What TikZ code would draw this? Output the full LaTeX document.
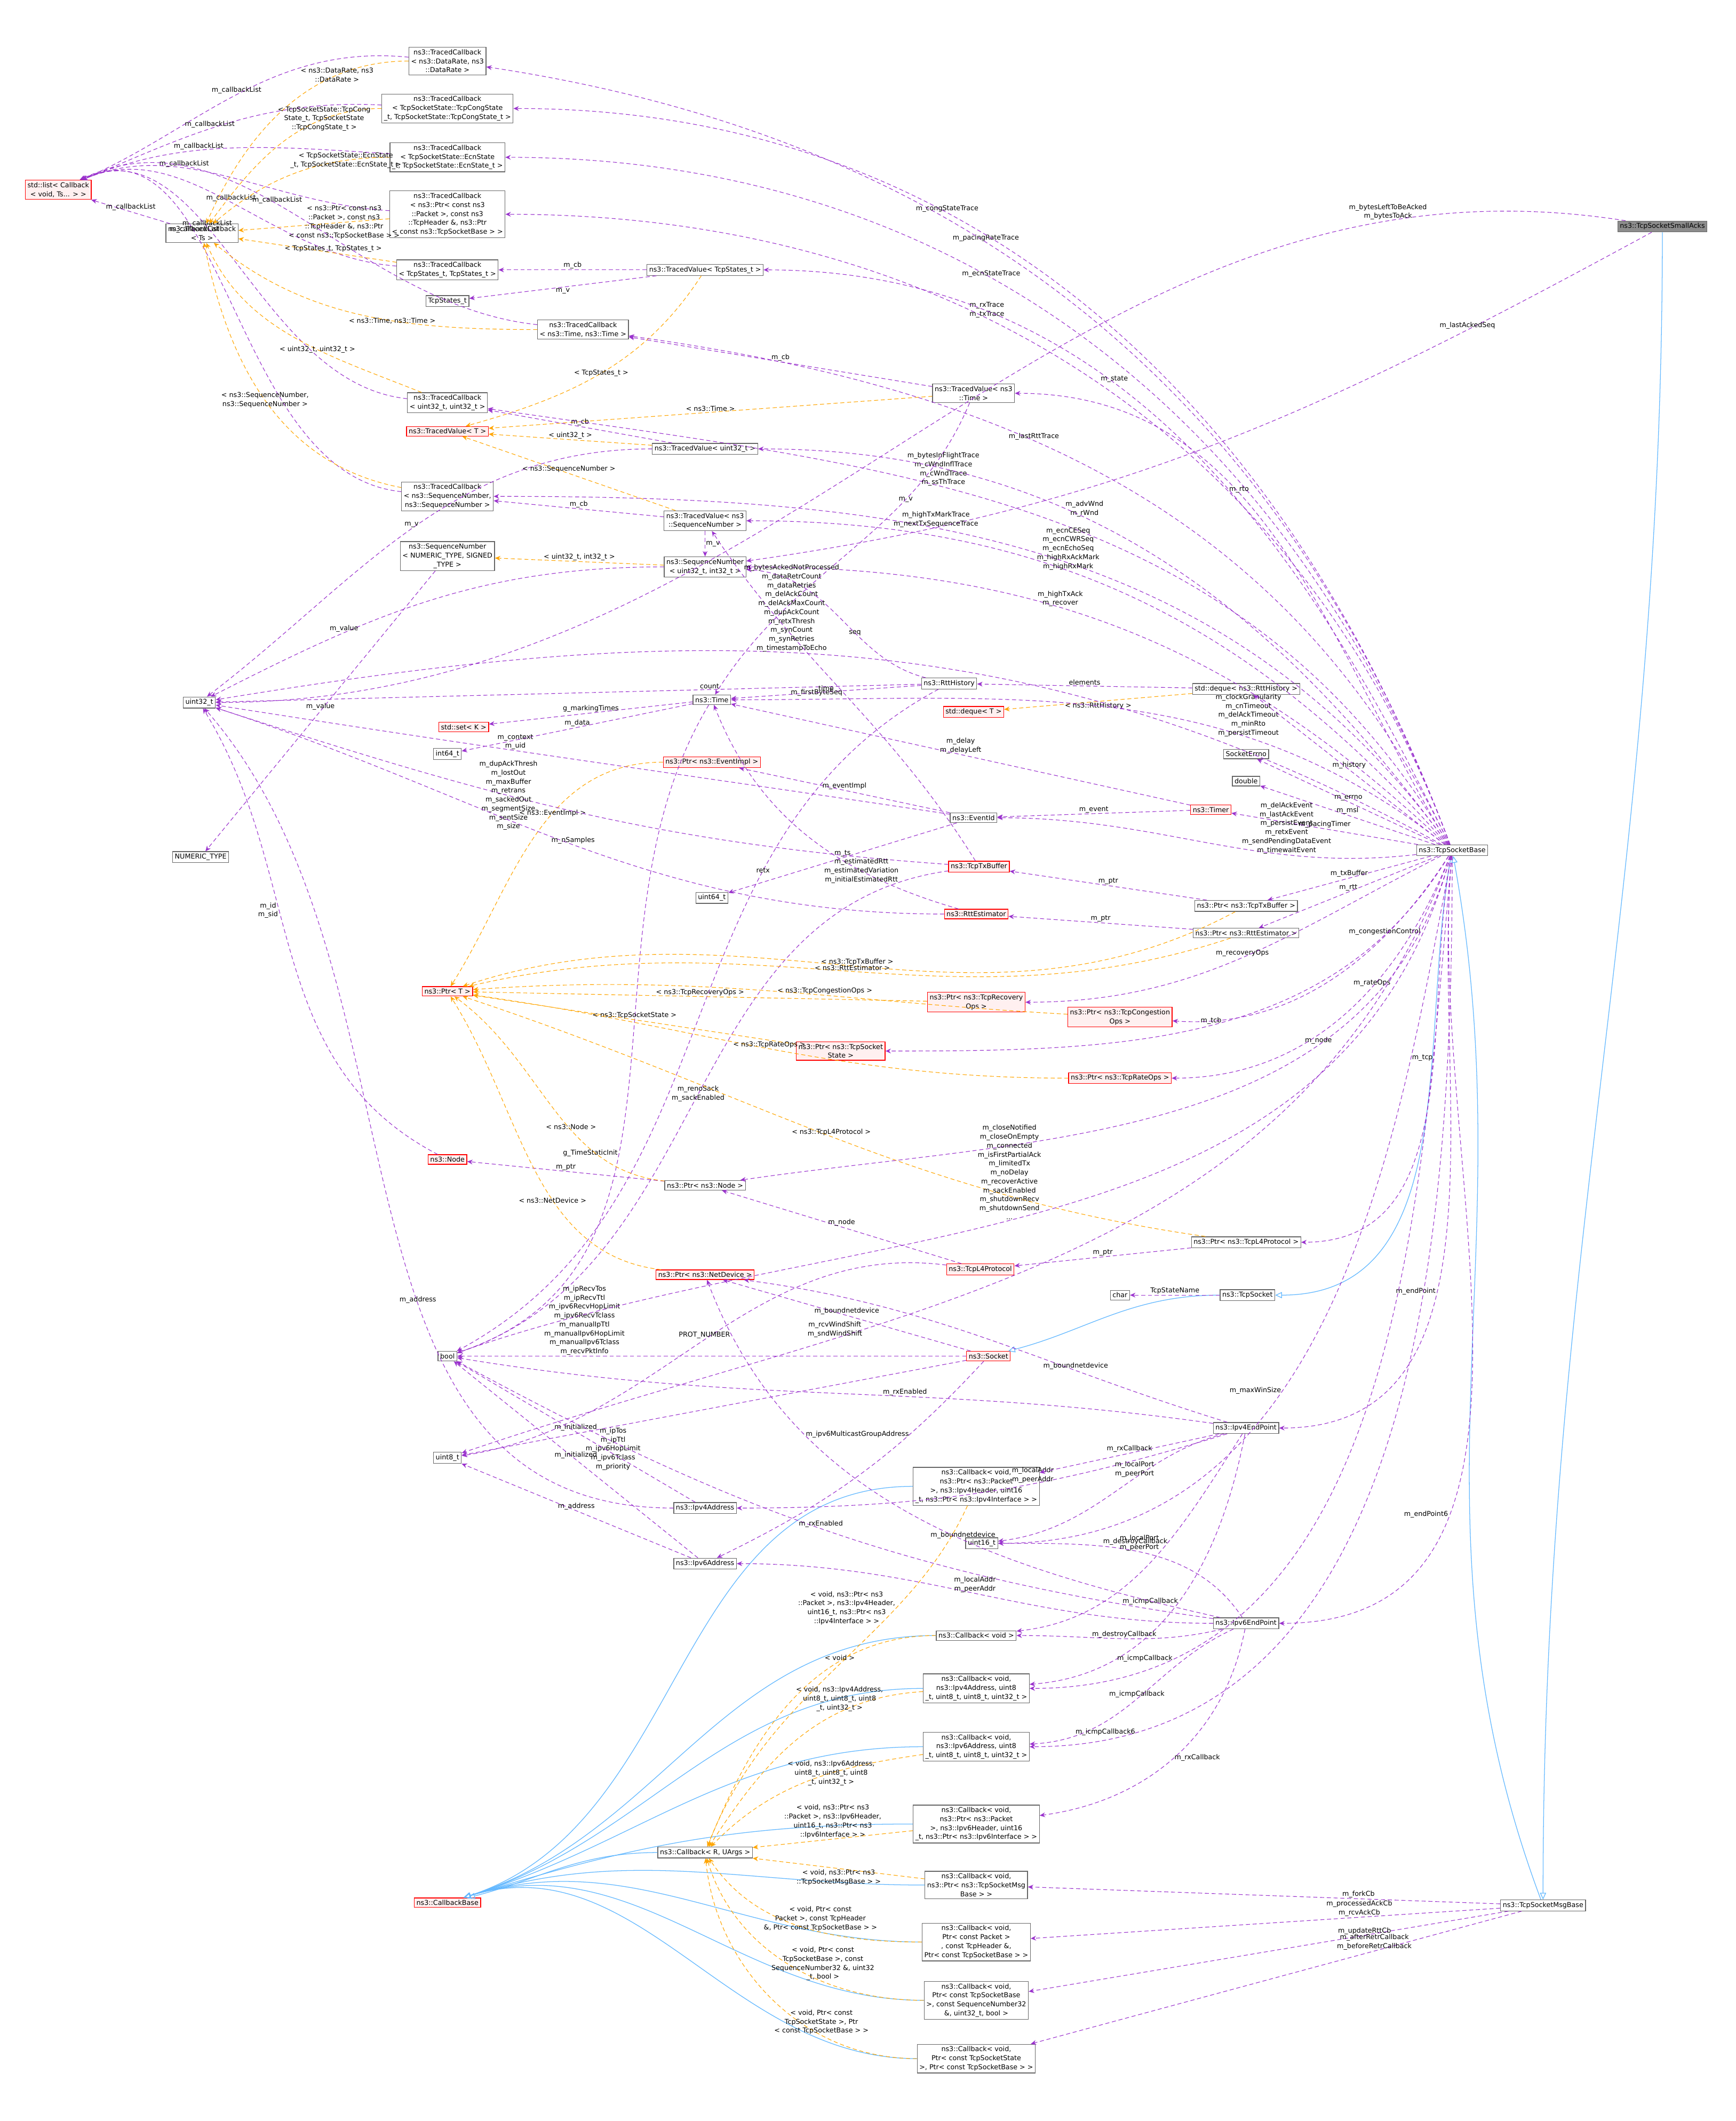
\documentclass[tikz,border=0pt]{standalone}
\usepackage{fontspec}
\setmainfont{DejaVu Sans}
\usetikzlibrary{arrows.meta}
\definecolor{mv}{HTML}{9A32CD}
\definecolor{tor}{HTML}{FFA500}
\definecolor{ib}{HTML}{63B8FF}
\newcommand{\lt}{\textless}
\newcommand{\gt}{\textgreater}
\begin{document}
\begin{tikzpicture}[x=0.25pt,y=0.25pt,yscale=-1,
 box/.style={draw=black!60,fill=white,font=\fontsize{1.25}{1.65}\selectfont,align=center,inner sep=0.4pt,line width=0.125pt},
 rbox/.style={box,draw=red,fill=red!6},
 gbox/.style={box,fill=black!45},
 m/.style={draw=mv,dash pattern=on 0.75pt off 0.5pt,line width=0.11pt,-{Stealth[length=1pt,width=0.875pt]}},
 t/.style={m,draw=tor},
 ih/.style={draw=ib,line width=0.125pt,-{Triangle[open,length=1.25pt,width=1.125pt]}},
 lab/.style={font=\fontsize{1.25}{1.65}\selectfont,align=center,inner sep=0.125pt,fill=none,text=black}]
\useasboundingbox (0,0) rectangle (1280,1564);
% ---------- nodes ----------
\node[gbox] (sa) at (1226,167) {ns3::TcpSocketSmallAcks};
\node[box] (tsb) at (1071,627) {ns3::TcpSocketBase};
\node[box] (msg) at (1138,1405) {ns3::TcpSocketMsgBase};
\node[box] (ts) at (920,955) {ns3::TcpSocket};
\node[rbox] (sock) at (729,1000) {ns3::Socket};
\node[box] (e4) at (919,1053) {ns3::Ipv4EndPoint};
\node[box] (e6) at (919,1197) {ns3::Ipv6EndPoint};
\node[rbox] (list) at (43,140) {std::list\lt{} Callback\\\lt{} void, Ts... \gt{} \gt};
\node[box] (tcts) at (149,172) {ns3::TracedCallback\\\lt{} Ts \gt};
\node[box] (u32) at (147,518) {uint32\_t};
\node[box] (num) at (148,632) {NUMERIC\_TYPE};
\node[rbox] (set) at (342,536) {std::set\lt{} K \gt};
\node[box] (i64) at (330,556) {int64\_t};
\node[box] (u64) at (525,662) {uint64\_t};
\node[rbox] (ptrT) at (330,731) {ns3::Ptr\lt{} T \gt};
\node[rbox] (node) at (330,855) {ns3::Node};
\node[box] (bool) at (330,1000) {bool};
\node[box] (u8) at (330,1075) {uint8\_t};
\node[rbox] (cbb) at (330,1403) {ns3::CallbackBase};
\node[box] (tcdr) at (330,45) {ns3::TracedCallback\\\lt{} ns3::DataRate, ns3\\::DataRate \gt};
\node[box] (tccs) at (330,80) {ns3::TracedCallback\\\lt{} TcpSocketState::TcpCongState\\\_t, TcpSocketState::TcpCongState\_t \gt};
\node[box] (tces) at (330,116) {ns3::TracedCallback\\\lt{} TcpSocketState::EcnState\\\_t, TcpSocketState::EcnState\_t \gt};
\node[box] (tcpk) at (330,158) {ns3::TracedCallback\\\lt{} ns3::Ptr\lt{} const ns3\\::Packet \gt, const ns3\\::TcpHeader \&, ns3::Ptr\\\lt{} const ns3::TcpSocketBase \gt{} \gt};
\node[box] (tcst) at (330,199) {ns3::TracedCallback\\\lt{} TcpStates\_t, TcpStates\_t \gt};
\node[box] (tst) at (330,222) {TcpStates\_t};
\node[box] (tctm) at (430,243) {ns3::TracedCallback\\\lt{} ns3::Time, ns3::Time \gt};
\node[box] (tcu) at (330,297) {ns3::TracedCallback\\\lt{} uint32\_t, uint32\_t \gt};
\node[rbox] (tvT) at (330,318) {ns3::TracedValue\lt{} T \gt};
\node[box] (tcsn) at (330,366) {ns3::TracedCallback\\\lt{} ns3::SequenceNumber,\\ns3::SequenceNumber \gt};
\node[box] (snN) at (330,410) {ns3::SequenceNumber\\\lt{} NUMERIC\_TYPE, SIGNED\\\_TYPE \gt};
\node[box] (tvst) at (520,199) {ns3::TracedValue\lt{} TcpStates\_t \gt};
\node[box] (tvu) at (520,331) {ns3::TracedValue\lt{} uint32\_t \gt};
\node[box] (tvsn) at (520,384) {ns3::TracedValue\lt{} ns3\\::SequenceNumber \gt};
\node[box] (sn32) at (520,418) {ns3::SequenceNumber\\\lt{} uint32\_t, int32\_t \gt};
\node[box] (time) at (525,516) {ns3::Time};
\node[rbox] (pev) at (525,562) {ns3::Ptr\lt{} ns3::EventImpl \gt};
\node[box] (pnode) at (520,874) {ns3::Ptr\lt{} ns3::Node \gt};
\node[rbox] (pnd) at (520,940) {ns3::Ptr\lt{} ns3::NetDevice \gt};
\node[box] (ip4) at (520,1112) {ns3::Ipv4Address};
\node[box] (ip6) at (520,1153) {ns3::Ipv6Address};
\node[box] (cbR) at (520,1366) {ns3::Callback\lt{} R, UArgs \gt};
\node[box] (rh) at (700,504) {ns3::RttHistory};
\node[box] (tvtm) at (718,290) {ns3::TracedValue\lt{} ns3\\::Time \gt};
\node[box] (eid) at (718,603) {ns3::EventId};
\node[rbox] (timer) at (893,597) {ns3::Timer};
\node[rbox] (txb) at (722,639) {ns3::TcpTxBuffer};
\node[rbox] (rtte) at (720,674) {ns3::RttEstimator};
\node[rbox] (prec) at (720,739) {ns3::Ptr\lt{} ns3::TcpRecovery\\Ops \gt};
\node[rbox] (ptcb) at (620,775) {ns3::Ptr\lt{} ns3::TcpSocket\\State \gt};
\node[rbox] (pcc) at (826,750) {ns3::Ptr\lt{} ns3::TcpCongestion\\Ops \gt};
\node[rbox] (prate) at (826,795) {ns3::Ptr\lt{} ns3::TcpRateOps \gt};
\node[box] (dqrh) at (919,508) {std::deque\lt{} ns3::RttHistory \gt};
\node[rbox] (dqT) at (718,525) {std::deque\lt{} T \gt};
\node[box] (errno) at (919,556) {SocketErrno};
\node[box] (dbl) at (919,576) {double};
\node[box] (ptxb) at (919,668) {ns3::Ptr\lt{} ns3::TcpTxBuffer \gt};
\node[box] (prtt) at (919,688) {ns3::Ptr\lt{} ns3::RttEstimator \gt};
\node[box] (pl4) at (919,916) {ns3::Ptr\lt{} ns3::TcpL4Protocol \gt};
\node[rbox] (l4) at (723,936) {ns3::TcpL4Protocol};
\node[box] (chr) at (826,955) {char};
\node[box] (cb4p) at (720,1096) {ns3::Callback\lt{} void,\\ns3::Ptr\lt{} ns3::Packet\\\gt, ns3::Ipv4Header, uint16\\\_t, ns3::Ptr\lt{} ns3::Ipv4Interface \gt{} \gt};
\node[box] (u16) at (724,1138) {uint16\_t};
\node[box] (cbv) at (720,1206) {ns3::Callback\lt{} void \gt};
\node[box] (cb4a) at (720,1245) {ns3::Callback\lt{} void,\\ns3::Ipv4Address, uint8\\\_t, uint8\_t, uint8\_t, uint32\_t \gt};
\node[box] (cb6a) at (720,1288) {ns3::Callback\lt{} void,\\ns3::Ipv6Address, uint8\\\_t, uint8\_t, uint8\_t, uint32\_t \gt};
\node[box] (cb6p) at (720,1345) {ns3::Callback\lt{} void,\\ns3::Ptr\lt{} ns3::Packet\\\gt, ns3::Ipv6Header, uint16\\\_t, ns3::Ptr\lt{} ns3::Ipv6Interface \gt{} \gt};
\node[box] (cbmsg) at (720,1390) {ns3::Callback\lt{} void,\\ns3::Ptr\lt{} ns3::TcpSocketMsg\\Base \gt{} \gt};
\node[box] (cbpk) at (720,1432) {ns3::Callback\lt{} void,\\Ptr\lt{} const Packet \gt\\, const TcpHeader \&,\\Ptr\lt{} const TcpSocketBase \gt{} \gt};
\node[box] (cbsq) at (720,1475) {ns3::Callback\lt{} void,\\Ptr\lt{} const TcpSocketBase\\\gt, const SequenceNumber32\\\&, uint32\_t, bool \gt};
\node[box] (cbst) at (720,1518) {ns3::Callback\lt{} void,\\Ptr\lt{} const TcpSocketState\\\gt, Ptr\lt{} const TcpSocketBase \gt{} \gt};
% ---------- inheritance ----------
\draw[ih] (sa) to[out=90,in=-90] (msg);
\draw[ih] (msg) to[out=-110,in=80] (tsb);
\draw[ih] (tsb) to[out=100,in=0] (ts);
\draw[ih] (ts) to[out=180,in=-20] (sock);
\foreach \c in {cb4p,cbv,cb4a,cb6a,cb6p,cbmsg,cbpk,cbsq,cbst,cbR} \draw[ih] (\c) to[out=180,in=-20] (cbb);
% ---------- m_callbackList ----------
\foreach \c/\p in {tcdr/0.5,tccs/0.55,tces/0.6,tcpk/0.65,tcst/0.5,tctm/0.55,tcu/0.6,tcsn/0.65} \draw[m] (\c) to[out=-170,in=-30] node[lab,pos=\p,above]{m\_callbackList} (list);
\draw[m] (tcts) -- node[lab,above]{m\_callbackList} (list);
% ---------- templates to TracedCallback<Ts> ----------
\draw[t] (tcdr) to[out=180,in=-70] node[lab,pos=0.25]{\lt{} ns3::DataRate, ns3\\::DataRate \gt} (tcts);
\draw[t] (tccs) to[out=180,in=-60] node[lab,pos=0.25]{\lt{} TcpSocketState::TcpCong\\State\_t, TcpSocketState\\::TcpCongState\_t \gt} (tcts);
\draw[t] (tces) to[out=180,in=-50] node[lab,pos=0.2]{\lt{} TcpSocketState::EcnState\\\_t, TcpSocketState::EcnState\_t \gt} (tcts);
\draw[t] (tcpk) -- node[lab,pos=0.3]{\lt{} ns3::Ptr\lt{} const ns3\\::Packet \gt, const ns3\\::TcpHeader \&, ns3::Ptr\\\lt{} const ns3::TcpSocketBase \gt{} \gt} (tcts);
\draw[t] (tcst) -- node[lab,pos=0.4,above]{\lt{} TcpStates\_t, TcpStates\_t \gt} (tcts);
\draw[t] (tctm) to[out=180,in=45] node[lab,pos=0.4]{\lt{} ns3::Time, ns3::Time \gt} (tcts);
\draw[t] (tcu) to[out=-150,in=70] node[lab,pos=0.4]{\lt{} uint32\_t, uint32\_t \gt} (tcts);
\draw[t] (tcsn) to[out=-160,in=80] node[lab,pos=0.5]{\lt{} ns3::SequenceNumber,\\ns3::SequenceNumber \gt} (tcts);
% ---------- TracedValues ----------
\draw[m] (tvst) -- node[lab,above]{m\_cb} (tcst);
\draw[m] (tvst) -- node[lab,below]{m\_v} (tst);
\draw[t] (tvst) to[out=120,in=-20] node[lab,pos=0.5]{\lt{} TcpStates\_t \gt} (tvT);
\draw[m] (tvtm) -- node[lab,above]{m\_cb} (tctm);
\draw[m] (tvtm) to[out=110,in=-60] node[lab,pos=0.3]{m\_v} (time);
\draw[t] (tvtm) -- node[lab,above]{\lt{} ns3::Time \gt} (tvT);
\draw[m] (tvu) -- node[lab,above]{m\_cb} (tcu);
\draw[m] (tvu) to[out=180,in=-40] node[lab,above]{m\_v} (u32);
\draw[t] (tvu) -- node[lab,above]{\lt{} uint32\_t \gt} (tvT);
\draw[m] (tvsn) -- node[lab,above]{m\_cb} (tcsn);
\draw[m] (tvsn) -- node[lab,right]{m\_v} (sn32);
\draw[t] (tvsn) -- node[lab,above]{\lt{} ns3::SequenceNumber \gt} (tvT);
\draw[m] (sn32) to[out=180,in=-30] node[lab,pos=0.7,above]{m\_value} (u32);
\draw[t] (sn32) -- node[lab,above]{\lt{} uint32\_t, int32\_t \gt} (snN);
\draw[m] (snN) -- node[lab,above]{m\_value} (num);
% ---------- misc types ----------
\draw[m] (time) -- node[lab,above]{g\_markingTimes} (set);
\draw[m] (time) -- node[lab,above]{m\_data} (i64);
\draw[m] (time) to[out=120,in=-20] node[lab,pos=0.6,left]{g\_TimeStaticInit} (bool);
\draw[m] (rh) -- node[lab,above,pos=0.3]{count} (u32);
\draw[m] (rh) -- node[lab,above]{time} (time);
\draw[m] (rh) to[out=-160,in=10] node[lab,pos=0.4]{seq} (sn32);
\draw[m] (rh) to[out=150,in=-30] node[lab,pos=0.3]{retx} (bool);
\draw[m] (dqrh) -- node[lab,above]{elements} (rh);
\draw[t] (dqrh) -- node[lab,below]{\lt{} ns3::RttHistory \gt} (dqT);
\draw[m] (timer) -- node[lab,above]{m\_delay\\m\_delayLeft} (time);
\draw[m] (timer) -- node[lab,above]{m\_event} (eid);
\draw[m] (eid) -- node[lab,above]{m\_eventImpl} (pev);
\draw[m] (eid) -- node[lab,above]{m\_ts} (u64);
\draw[m] (eid) to[out=-170,in=10] node[lab,pos=0.6,above]{m\_context\\m\_uid} (u32);
\draw[t] (pev) to[out=180,in=-60] node[lab,pos=0.4]{\lt{} ns3::EventImpl \gt} (ptrT);
\draw[m] (txb) to[out=-175,in=20] node[lab,pos=0.6]{m\_dupAckThresh\\m\_lostOut\\m\_maxBuffer\\m\_retrans\\m\_sackedOut\\m\_segmentSize\\m\_sentSize\\m\_size} (u32);
\draw[m] (txb) to[out=-120,in=60] node[lab,pos=0.5,left]{m\_firstByteSeq} (tvsn);
\draw[m] (txb) to[out=170,in=-20] node[lab,pos=0.5]{m\_renoSack\\m\_sackEnabled} (bool);
\draw[m] (rtte) to[out=-160,in=70] node[lab,pos=0.3]{m\_estimatedRtt\\m\_estimatedVariation\\m\_initialEstimatedRtt} (time);
\draw[m] (rtte) to[out=180,in=20] node[lab,pos=0.5,above]{m\_nSamples} (u32);
\draw[m] (ptxb) -- node[lab,above]{m\_ptr} (txb);
\draw[t] (ptxb) to[out=150,in=-20] node[lab,pos=0.5,above]{\lt{} ns3::TcpTxBuffer \gt} (ptrT);
\draw[m] (prtt) -- node[lab,above]{m\_ptr} (rtte);
\draw[t] (prtt) to[out=160,in=-15] node[lab,pos=0.5,above]{\lt{} ns3::RttEstimator \gt} (ptrT);
\draw[t] (prec) -- node[lab,above]{\lt{} ns3::TcpRecoveryOps \gt} (ptrT);
\draw[t] (pcc) to[out=-175,in=-5] node[lab,pos=0.4,above]{\lt{} ns3::TcpCongestionOps \gt} (ptrT);
\draw[t] (ptcb) -- node[lab,above]{\lt{} ns3::TcpSocketState \gt} (ptrT);
\draw[t] (prate) to[out=180,in=10] node[lab,pos=0.5,above]{\lt{} ns3::TcpRateOps \gt} (ptrT);
\draw[m] (node) to[out=-150,in=60] node[lab,pos=0.6,left]{m\_id\\m\_sid} (u32);
\draw[m] (pnode) -- node[lab,above]{m\_ptr} (node);
\draw[t] (pnode) to[out=-170,in=40] node[lab,pos=0.4,above]{\lt{} ns3::Node \gt} (ptrT);
\draw[t] (pnd) to[out=-170,in=60] node[lab,pos=0.4]{\lt{} ns3::NetDevice \gt} (ptrT);
\draw[m] (l4) -- node[lab,above]{m\_node} (pnode);
\draw[m] (l4) to[out=-170,in=-10] node[lab,pos=0.5,above]{PROT\_NUMBER} (u8);
\draw[m] (pl4) -- node[lab,above]{m\_ptr} (l4);
\draw[t] (pl4) to[out=-170,in=20] node[lab,pos=0.5,above]{\lt{} ns3::TcpL4Protocol \gt} (ptrT);
\draw[m] (ts) -- node[lab,above]{TcpStateName} (chr);
\draw[m] (sock) -- node[lab,above]{m\_boundnetdevice} (pnd);
\draw[m] (sock) -- node[lab,above,pos=0.75]{m\_ipRecvTos\\m\_ipRecvTtl\\m\_ipv6RecvHopLimit\\m\_ipv6RecvTclass\\m\_manualIpTtl\\m\_manualIpv6HopLimit\\m\_manualIpv6Tclass\\m\_recvPktInfo} (bool);
\draw[m] (sock) -- node[lab,below,pos=0.7]{m\_ipTos\\m\_ipTtl\\m\_ipv6HopLimit\\m\_ipv6Tclass\\m\_priority} (u8);
\draw[m] (sock) to[out=130,in=-30] node[lab,pos=0.3,left]{m\_ipv6MulticastGroupAddress} (ip6);
\draw[m] (ip4) -- node[lab,above]{m\_initialized} (bool);
\draw[m] (ip4) to[out=180,in=50] node[lab,pos=0.4,above]{m\_address} (u32);
\draw[m] (ip6) -- node[lab,above]{m\_initialized} (bool);
\draw[m] (ip6) -- node[lab,above]{m\_address} (u8);
% endpoints
\draw[m] (e4) to[out=-160,in=10] node[lab,pos=0.3,above]{m\_boundnetdevice} (pnd);
\draw[m] (e4) to[out=-170,in=10] node[lab,pos=0.4,above]{m\_rxEnabled} (bool);
\draw[m] (e4) to[out=160,in=0] node[lab,pos=0.4,above]{m\_localAddr\\m\_peerAddr} (ip4);
\draw[m] (e4) -- node[lab,above]{m\_rxCallback} (cb4p);
\draw[m] (e4) to[out=160,in=-10] node[lab,pos=0.4,above]{m\_localPort\\m\_peerPort} (u16);
\draw[m] (e4) to[out=120,in=-10] node[lab,pos=0.4,left]{m\_destroyCallback} (cbv);
\draw[m] (e4) to[out=100,in=-10] node[lab,pos=0.5,left]{m\_icmpCallback} (cb4a);
\draw[m] (e6) to[out=-170,in=30] node[lab,pos=0.5,above]{m\_rxEnabled} (bool);
\draw[m] (e6) to[out=180,in=0] node[lab,pos=0.5,above]{m\_localAddr\\m\_peerAddr} (ip6);
\draw[m] (e6) to[out=-165,in=70] node[lab,pos=0.4,above]{m\_boundnetdevice} (pnd);
\draw[m] (e6) to[out=-120,in=0] node[lab,pos=0.5,above]{m\_localPort\\m\_peerPort} (u16);
\draw[m] (e6) to[out=160,in=0] node[lab,pos=0.5,above]{m\_destroyCallback} (cbv);
\draw[m] (e6) to[out=150,in=-10] node[lab,pos=0.5,above]{m\_icmpCallback} (cb6a);
\draw[m] (e6) to[out=100,in=-20] node[lab,pos=0.5,right]{m\_rxCallback} (cb6p);
% callback templates
\draw[t] (cb4p) to[out=110,in=-70] node[lab,pos=0.3,left]{\lt{} void, ns3::Ptr\lt{} ns3\\::Packet \gt, ns3::Ipv4Header,\\uint16\_t, ns3::Ptr\lt{} ns3\\::Ipv4Interface \gt{} \gt} (cbR);
\draw[t] (cbv) to[out=180,in=-70] node[lab,pos=0.3,above]{\lt{} void \gt} (cbR);
\draw[t] (cb4a) to[out=170,in=-60] node[lab,pos=0.3,above]{\lt{} void, ns3::Ipv4Address,\\uint8\_t, uint8\_t, uint8\\\_t, uint32\_t \gt} (cbR);
\draw[t] (cb6a) to[out=160,in=-50] node[lab,pos=0.4]{\lt{} void, ns3::Ipv6Address,\\uint8\_t, uint8\_t, uint8\\\_t, uint32\_t \gt} (cbR);
\draw[t] (cb6p) -- node[lab,pos=0.5,above]{\lt{} void, ns3::Ptr\lt{} ns3\\::Packet \gt, ns3::Ipv6Header,\\uint16\_t, ns3::Ptr\lt{} ns3\\::Ipv6Interface \gt{} \gt} (cbR);
\draw[t] (cbmsg) -- node[lab,pos=0.5,below]{\lt{} void, ns3::Ptr\lt{} ns3\\::TcpSocketMsgBase \gt{} \gt} (cbR);
\draw[t] (cbpk) to[out=180,in=60] node[lab,pos=0.4,above]{\lt{} void, Ptr\lt{} const\\Packet \gt, const TcpHeader\\\&, Ptr\lt{} const TcpSocketBase \gt{} \gt} (cbR);
\draw[t] (cbsq) to[out=180,in=75] node[lab,pos=0.35,above]{\lt{} void, Ptr\lt{} const\\TcpSocketBase \gt, const\\SequenceNumber32 \&, uint32\\\_t, bool \gt} (cbR);
\draw[t] (cbst) to[out=180,in=85] node[lab,pos=0.3,above]{\lt{} void, Ptr\lt{} const\\TcpSocketState \gt, Ptr\\\lt{} const TcpSocketBase \gt{} \gt} (cbR);
% ---------- TcpSocketSmallAcks ----------
\draw[m] (sa) to[out=-170,in=0] node[lab,pos=0.15,above]{m\_bytesLeftToBeAcked\\m\_bytesToAck} (u32);
\draw[m] (sa) to[out=150,in=-10] node[lab,pos=0.2,above]{m\_lastAckedSeq} (sn32);
% ---------- TcpSocketMsgBase ----------
\draw[m] (msg) -- node[lab,above,pos=0.3]{m\_forkCb} (cbmsg);
\draw[m] (msg) -- node[lab,above,pos=0.3]{m\_processedAckCb\\m\_rcvAckCb} (cbpk);
\draw[m] (msg) -- node[lab,above,pos=0.3]{m\_updateRttCb} (cbsq);
\draw[m] (msg) -- node[lab,above,pos=0.3]{m\_afterRetrCallback\\m\_beforeRetrCallback} (cbst);
% ---------- TcpSocketBase ----------
\draw[m] (tsb) to[out=-110,in=10] node[lab,pos=0.6,above]{m\_pacingRateTrace} (tcdr);
\draw[m] (tsb) to[out=-110,in=0] node[lab,pos=0.65,above]{m\_congStateTrace} (tccs);
\draw[m] (tsb) to[out=-110,in=0] node[lab,pos=0.6,above]{m\_ecnStateTrace} (tces);
\draw[m] (tsb) to[out=-110,in=0] node[lab,pos=0.6,above]{m\_rxTrace\\m\_txTrace} (tcpk);
\draw[m] (tsb) to[out=-115,in=0] node[lab,pos=0.6,above]{m\_state} (tvst);
\draw[m] (tsb) to[out=-115,in=10] node[lab,pos=0.6,above]{m\_lastRttTrace} (tctm);
\draw[m] (tsb) to[out=-120,in=10] node[lab,pos=0.6,above]{m\_bytesInFlightTrace\\m\_cWndInflTrace\\m\_cWndTrace\\m\_ssThTrace} (tcu);
\draw[m] (tsb) to[out=-120,in=0] node[lab,pos=0.6,above]{m\_rto} (tvtm);
\draw[m] (tsb) to[out=-125,in=0] node[lab,pos=0.6,above]{m\_advWnd\\m\_rWnd} (tvu);
\draw[m] (tsb) to[out=-125,in=0] node[lab,pos=0.6,above]{m\_highTxMarkTrace\\m\_nextTxSequenceTrace} (tcsn);
\draw[m] (tsb) to[out=-130,in=0] node[lab,pos=0.6,above]{m\_ecnCESeq\\m\_ecnCWRSeq\\m\_ecnEchoSeq\\m\_highRxAckMark\\m\_highRxMark} (tvsn);
\draw[m] (tsb) to[out=-135,in=0] node[lab,pos=0.6,above]{m\_highTxAck\\m\_recover} (sn32);
\draw[m] (tsb) to[out=-140,in=0] node[lab,pos=0.3,above]{m\_clockGranularity\\m\_cnTimeout\\m\_delAckTimeout\\m\_minRto\\m\_persistTimeout} (time);
\draw[m] (tsb) to[out=-150,in=-10] node[lab,pos=0.55,above]{m\_bytesAckedNotProcessed\\m\_dataRetrCount\\m\_dataRetries\\m\_delAckCount\\m\_delAckMaxCount\\m\_dupAckCount\\m\_retxThresh\\m\_synCount\\m\_synRetries\\m\_timestampToEcho} (u32);
\draw[m] (tsb) -- node[lab,above]{m\_history} (dqrh);
\draw[m] (tsb) -- node[lab,above]{m\_errno} (errno);
\draw[m] (tsb) -- node[lab,above]{m\_msl} (dbl);
\draw[m] (tsb) -- node[lab,above]{m\_pacingTimer} (timer);
\draw[m] (tsb) to[out=170,in=0] node[lab,pos=0.3,above]{m\_delAckEvent\\m\_lastAckEvent\\m\_persistEvent\\m\_retxEvent\\m\_sendPendingDataEvent\\m\_timewaitEvent} (eid);
\draw[m] (tsb) -- node[lab,above]{m\_txBuffer} (ptxb);
\draw[m] (tsb) -- node[lab,above]{m\_rtt} (prtt);
\draw[m] (tsb) to[out=150,in=0] node[lab,pos=0.5,above]{m\_recoveryOps} (prec);
\draw[m] (tsb) to[out=120,in=10] node[lab,pos=0.3,above]{m\_congestionControl} (pcc);
\draw[m] (tsb) to[out=120,in=0] node[lab,pos=0.5,above]{m\_tcb} (ptcb);
\draw[m] (tsb) to[out=110,in=0] node[lab,pos=0.4,above]{m\_rateOps} (prate);
\draw[m] (tsb) to[out=105,in=-10] node[lab,pos=0.3,above]{m\_node} (pnode);
\draw[m] (tsb) to[out=105,in=-20] node[lab,pos=0.55,above]{m\_closeNotified\\m\_closeOnEmpty\\m\_connected\\m\_isFirstPartialAck\\m\_limitedTx\\m\_noDelay\\m\_recoverActive\\m\_sackEnabled\\m\_shutdownRecv\\m\_shutdownSend\\...} (bool);
\draw[m] (tsb) to[out=100,in=0] node[lab,pos=0.4,left]{m\_tcp} (pl4);
\draw[m] (tsb) to[out=95,in=0] node[lab,pos=0.6,left]{m\_endPoint} (e4);
\draw[m] (tsb) to[out=95,in=0] node[lab,pos=0.7,left]{m\_endPoint6} (e6);
\draw[m] (tsb) to[out=100,in=0] node[lab,pos=0.6,left]{m\_maxWinSize} (u16);
\draw[m] (tsb) to[out=110,in=-20] node[lab,pos=0.7,above]{m\_rcvWindShift\\m\_sndWindShift} (u8);
\draw[m] (tsb) to[out=95,in=0] node[lab,pos=0.85,left]{m\_icmpCallback} (cb4a);
\draw[m] (tsb) to[out=90,in=0] node[lab,pos=0.9,left]{m\_icmpCallback6} (cb6a);
\end{tikzpicture}
\end{document}
